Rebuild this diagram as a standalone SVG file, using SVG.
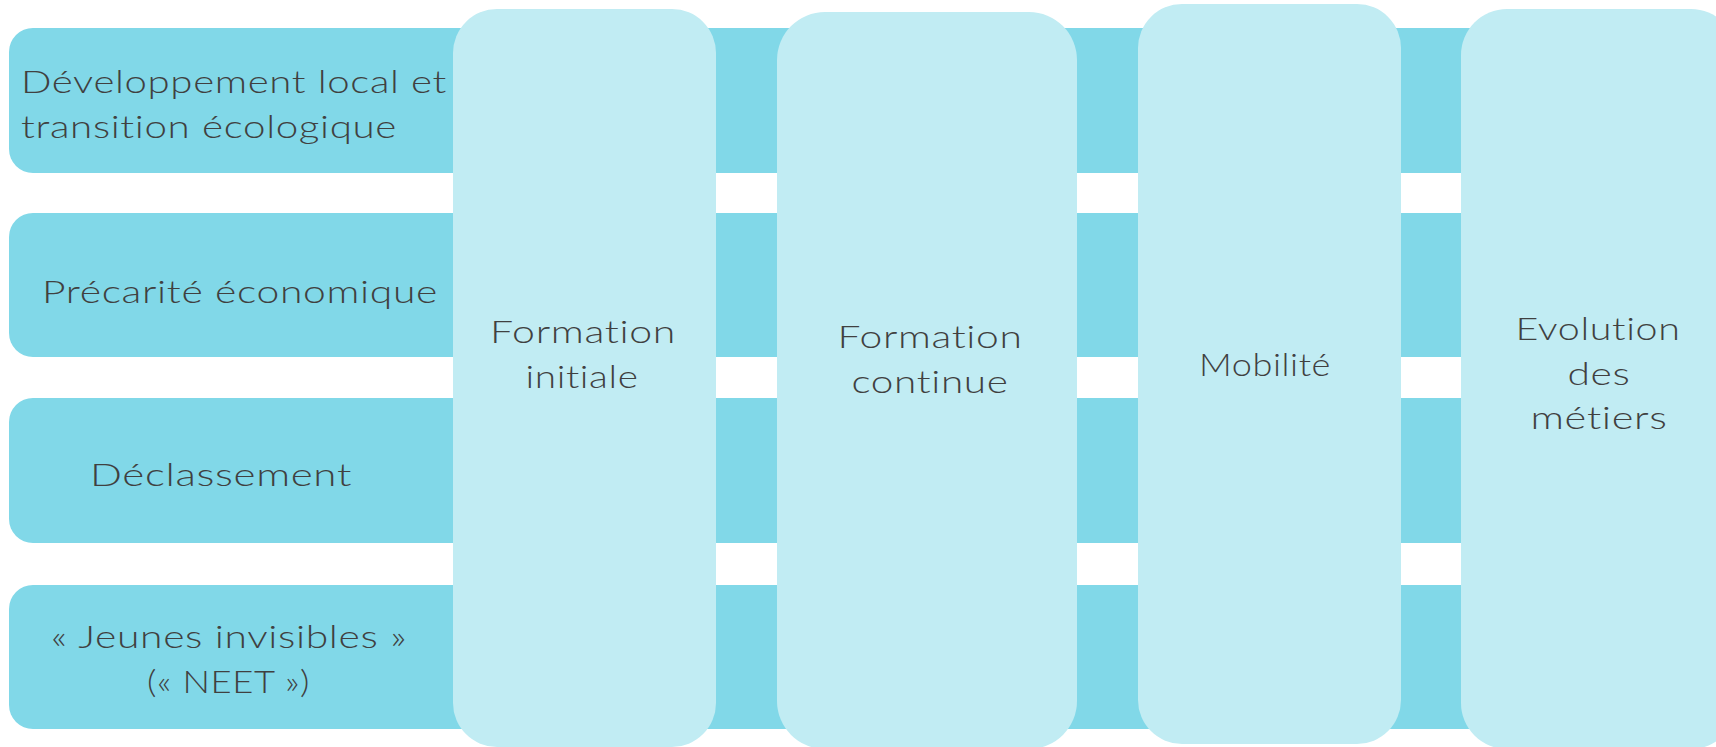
<svg xmlns="http://www.w3.org/2000/svg" width="1716" height="747" viewBox="0 0 1716 747">
<style>
.row{fill:#81D8E8}
.col{fill:#C1ECF3}
text{font-family:"Lato","Liberation Sans",sans-serif;font-size:31px;font-weight:300;fill:#404040;letter-spacing:0.5px}
.c{text-anchor:middle}
</style>
<rect width="1716" height="747" fill="#ffffff"/>
<g id="row-developpement">
<rect class="row" x="9" y="28" width="1740" height="145" rx="24" ry="24"/>
<text x="21" y="93" textLength="426" lengthAdjust="spacingAndGlyphs">Développement local et</text>
<text x="21" y="138" textLength="376" lengthAdjust="spacingAndGlyphs">transition écologique</text>
</g>
<g id="row-precarite">
<rect class="row" x="9" y="213" width="1740" height="144" rx="24" ry="24"/>
<text x="42" y="303" textLength="396" lengthAdjust="spacingAndGlyphs">Précarité économique</text>
</g>
<g id="row-declassement">
<rect class="row" x="9" y="398" width="1740" height="145" rx="24" ry="24"/>
<text x="90" y="486" textLength="262" lengthAdjust="spacingAndGlyphs">Déclassement</text>
</g>
<g id="row-neet">
<rect class="row" x="9" y="585" width="1740" height="144" rx="24" ry="24"/>
<text x="51" y="648" textLength="356" lengthAdjust="spacingAndGlyphs">« Jeunes invisibles »</text>
<text x="147" y="693" textLength="163" lengthAdjust="spacingAndGlyphs">(« NEET »)</text>
</g>
<g id="col-formation-initiale">
<rect class="col" x="453" y="9" width="263" height="738" rx="44" ry="44"/>
<text class="c" x="583" y="343" textLength="186" lengthAdjust="spacingAndGlyphs">Formation</text>
<text class="c" x="582" y="388" textLength="113" lengthAdjust="spacingAndGlyphs">initiale</text>
</g>
<g id="col-formation-continue">
<rect class="col" x="777" y="12" width="300" height="737" rx="48" ry="48"/>
<text class="c" x="930" y="348" textLength="185" lengthAdjust="spacingAndGlyphs">Formation</text>
<text class="c" x="930" y="393" textLength="157" lengthAdjust="spacingAndGlyphs">continue</text>
</g>
<g id="col-mobilite">
<rect class="col" x="1138" y="4" width="263" height="740" rx="44" ry="44"/>
<text class="c" x="1265" y="376" textLength="132" lengthAdjust="spacingAndGlyphs">Mobilité</text>
</g>
<g id="col-evolution">
<rect class="col" x="1461" y="9" width="276" height="740" rx="46" ry="46"/>
<text class="c" x="1598" y="340" textLength="165" lengthAdjust="spacingAndGlyphs">Evolution</text>
<text class="c" x="1599" y="385" textLength="63" lengthAdjust="spacingAndGlyphs">des</text>
<text class="c" x="1599" y="429" textLength="137" lengthAdjust="spacingAndGlyphs">métiers</text>
</g>
<g id="connectors"/>
</svg>
